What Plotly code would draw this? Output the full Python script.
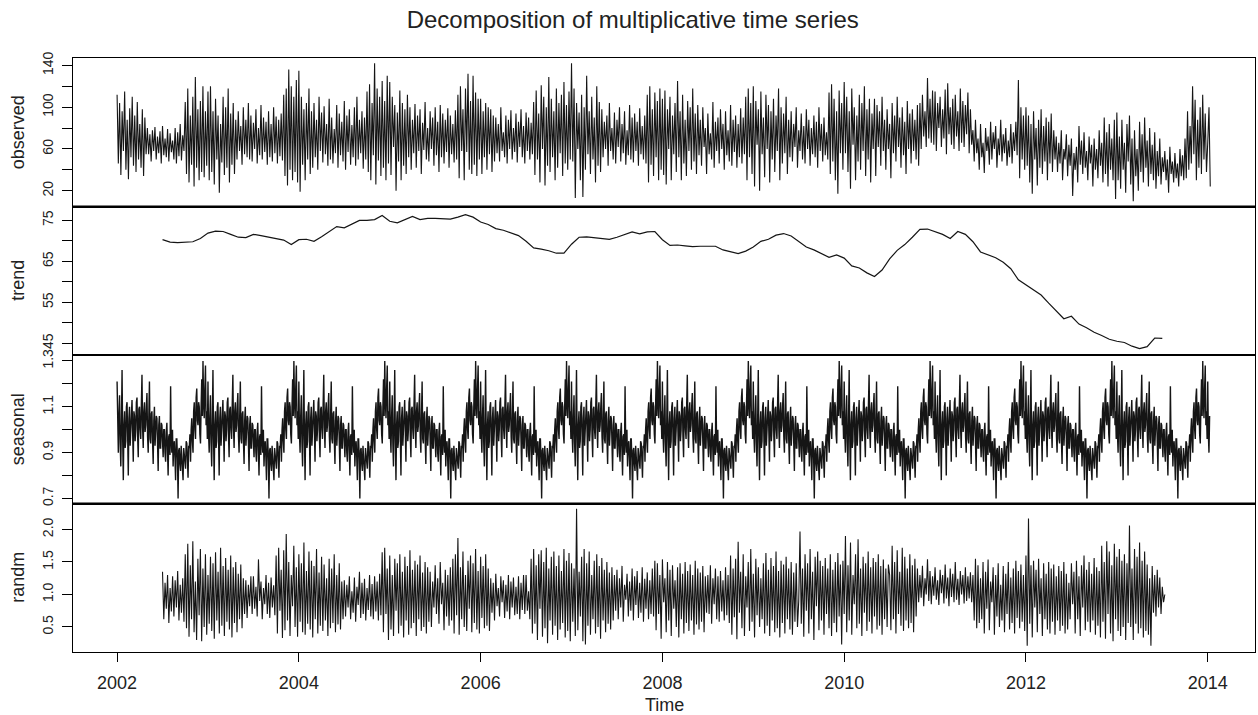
import numpy as np
import plotly.graph_objects as go
from plotly.subplots import make_subplots

# ---------------- data ----------------
obs_start = 2002.0
obs_per_year = 72
observed = [
    # 2002
    112, 46, 104, 35, 96, 58, 115, 40, 88, 31, 99, 52, 110, 44, 92, 38, 105, 50, 84, 42, 98, 34, 90, 55,
    80, 55, 74, 48, 78, 58, 81, 50, 72, 56, 77, 46, 82, 54, 70, 52, 79, 48, 75, 57, 68, 50, 80, 46, 76, 53,
    84, 49, 73, 58,
    105, 36, 118, 28, 92, 45, 110, 24, 129, 42, 98, 30, 106, 38, 120, 33, 96, 44,
    # 2003
    115, 30, 120, 38, 96, 26, 108, 50, 92, 18, 84, 47, 110, 35, 100, 42, 118, 28, 94, 45, 104, 36, 88, 50,
    96, 58, 82, 45, 100, 55, 88, 52, 104, 50, 92, 48, 85, 60, 98, 46, 80, 54, 102, 50, 90, 57, 86, 45,
    96, 52, 84, 48, 100, 56, 91, 46, 88, 53, 94, 49,
    112, 34, 118, 25, 136, 40, 120, 30, 110, 38, 126, 28,
    # 2004
    135, 19, 110, 45, 98, 30, 104, 50, 118, 36, 96, 42,
    104, 52, 88, 40, 110, 58, 95, 47, 101, 55, 84, 44, 108, 50, 90, 46, 79, 56, 102, 42, 94, 54, 86, 48,
    106, 40, 92, 57, 98, 45, 83, 52, 100, 44, 110, 50, 88, 56, 96, 41, 90, 50,
    115, 38, 122, 30, 104, 54, 142, 26, 118, 49, 110, 34, 125, 42, 106, 30, 130, 46,
    # 2005
    124, 35, 110, 62, 102, 20, 95, 48, 116, 30, 104, 44, 98, 36, 112, 52, 100, 40,
    88, 56, 103, 42, 92, 58, 98, 36, 85, 59, 105, 50, 80, 48, 96, 60, 90, 44, 100, 54, 86, 38,
    102, 52, 94, 46, 88, 57, 99, 42, 92, 55, 84, 47, 97, 50,
    112, 32, 120, 58, 98, 30, 118, 57, 132, 40, 106, 36, 130, 45, 114, 34, 108, 50,
    # 2006
    108, 36, 96, 52, 104, 40, 100, 55, 98, 38, 92, 48,
    90, 56, 84, 48, 100, 58, 76, 52, 92, 46, 88, 60, 97, 50, 80, 57, 94, 47, 86, 62, 98, 52, 82, 46,
    95, 58, 90, 50, 85, 55,
    105, 35, 116, 50, 94, 28, 121, 60, 110, 25, 100, 44, 129, 38, 108, 52, 96, 30, 118, 42, 104, 56,
    112, 34, 124, 46, 102, 40, 115, 50,
    # 2007
    142, 48, 118, 13, 104, 60, 95, 30, 112, 14, 100, 40, 130, 55, 96, 36, 110, 50, 90, 28, 120, 44, 105, 38,
    98, 52, 86, 60, 92, 44, 104, 58, 80, 50, 95, 46, 88, 62, 100, 48, 84, 56, 96, 45, 78, 54, 102, 50,
    90, 47, 94, 58, 86, 44, 99, 55, 82, 50, 92, 46,
    112, 28, 120, 45, 98, 34, 114, 52, 106, 30, 118, 40,
    # 2008
    108, 35, 116, 26, 98, 60, 110, 30, 92, 55, 104, 38, 125, 52, 96, 30, 112, 46, 88, 34, 106, 58, 100, 40,
    118, 48, 94, 36, 102, 54,
    88, 44, 100, 62, 80, 36, 94, 55, 75, 50, 105, 42, 86, 58, 90, 46, 98, 60, 84, 40, 96, 54, 78, 48,
    102, 44, 88, 57, 92, 42, 84, 52, 99, 46, 90, 55,
    110, 30, 118, 52, 104, 36,
    # 2009
    120, 24, 106, 64, 98, 20, 115, 55, 90, 33, 112, 60, 102, 28, 96, 50, 108, 38, 92, 58, 118, 30, 100, 46,
    94, 56, 110, 36, 88, 52,
    96, 48, 84, 62, 100, 42, 78, 58, 94, 50, 82, 46, 98, 60, 88, 44, 80, 55, 92, 52, 86, 42, 100, 58,
    84, 48, 90, 54, 76, 50,
    114, 36, 122, 48, 108, 30, 96, 17, 116, 56, 104, 40,
    # 2010
    124, 56, 110, 38, 96, 22, 118, 64, 100, 30, 92, 48, 112, 40, 104, 58, 120, 34, 98, 50, 108, 28, 94, 60,
    108, 34, 102, 62, 96, 44, 110, 58, 88, 40, 98, 60, 84, 32, 104, 56, 92, 48, 110, 62, 90, 42, 100, 54,
    86, 36, 106, 60, 94, 46, 98, 58, 88, 50, 102, 44,
    104, 60, 112, 72, 96, 62, 128, 70, 108, 66, 116, 64,
    # 2011
    115, 58, 104, 80, 110, 62, 98, 70, 117, 55, 123, 74, 100, 64, 108, 60, 112, 72, 96, 58, 118, 66, 106, 62,
    102, 74, 114, 56, 98, 64,
    78, 48, 88, 56, 70, 40, 84, 52, 66, 37, 80, 58, 72, 45, 86, 50, 76, 60, 82, 42, 70, 54, 88, 48,
    74, 56, 80, 44, 68, 52, 84, 46, 76, 58, 86, 54,
    126, 32, 100, 50, 92, 40,
    # 2012
    100, 44, 92, 28, 84, 17, 96, 50, 80, 25, 88, 42, 98, 36, 82, 48, 90, 30, 86, 46, 94, 38, 78, 50,
    72, 38, 66, 46, 78, 30, 60, 50, 74, 34, 64, 44, 70, 15, 56, 40, 62, 28, 82, 45, 68, 36, 76, 42,
    58, 30, 72, 46, 64, 24, 70, 40, 60, 32, 78, 44, 66, 28, 90, 36, 76, 24, 84, 40, 70, 30, 88, 12,
    # 2013
    95, 30, 72, 22, 88, 40, 66, 18, 84, 48, 92, 26, 70, 10, 78, 34, 60, 20, 86, 38, 74, 28, 90, 42,
    68, 24, 80, 36, 64, 30, 76, 22, 58, 34, 70, 26,
    52, 38, 58, 30, 50, 18, 62, 36, 48, 28, 56, 32, 46, 24, 60, 34, 54, 30,
    70, 32, 96, 40, 82, 46, 120, 55, 107, 30, 88, 42, 100, 36, 112, 50, 94, 38,
    # 2014
    66, 100, 24,
]

trend_start = 2002.5
trend_per_year = 12
trend = [
    70.3, 69.7, 69.6, 69.7, 69.8, 70.6, 71.9, 72.4, 72.3, 71.6, 70.9, 70.8,
    71.6, 71.3, 70.9, 70.6, 70.2, 69.1, 70.3, 70.4, 69.9, 71.0, 72.2, 73.5,
    73.2, 74.2, 75.0, 75.0, 75.2, 76.2, 74.8, 74.4, 75.3, 76.0, 75.2, 75.5,
    75.5, 75.4, 75.3, 75.8, 76.4, 75.8, 74.6, 74.0, 73.0, 72.6, 72.0, 71.3,
    69.9, 68.3, 68.0, 67.6, 67.0, 67.0, 69.2, 70.9, 71.0, 70.8, 70.7, 70.4,
    70.9, 71.6, 72.2, 71.7, 72.2, 72.3, 70.3, 68.9, 69.0, 68.8, 68.6, 68.7,
    68.7, 68.7, 67.8, 67.4, 66.9, 67.5, 68.5, 69.9, 70.4, 71.4, 71.8, 71.2,
    69.8, 68.5, 67.8, 67.0, 66.0, 66.6, 65.8, 63.9, 63.4, 62.2, 61.3, 62.9,
    65.6, 67.7, 69.1, 70.9, 72.8, 72.9, 72.3, 71.6, 70.6, 72.3, 71.6, 69.8,
    67.3, 66.6, 65.9, 64.8, 63.2, 60.5, 59.2, 57.9, 56.8, 54.8, 52.9, 51.0,
    51.6, 49.7, 48.8, 47.7, 46.9, 46.0, 45.5, 45.2, 44.3, 43.7, 44.2, 46.3,
    46.2,
]

# seasonal factor over one year (the component repeats every year), 146 values per year
seasonal_start = 2002.0
seasonal_per_year = 146
seasonal_years = 12
seasonal_extra = 4
seasonal_year = [
    1.21, 0.98, 0.90, 1.06, 1.15, 0.94, 0.84, 1.04, 1.26, 0.96, 0.78, 1.02, 1.08, 0.92, 0.95, 1.10,
    1.12, 0.97, 0.80, 1.05, 1.10, 0.93, 0.98, 1.07,
    1.13, 0.99, 0.86, 1.08, 1.06, 0.95, 1.00, 1.12, 1.14, 0.97, 0.88, 1.09, 1.10, 1.00, 0.96, 1.11,
    1.24, 1.01, 0.92, 1.08, 1.12, 0.99, 1.02, 1.10, 1.16, 0.97,
    0.90, 1.06, 1.21, 0.96, 0.94, 1.07, 1.08, 0.95, 0.85, 1.04, 1.10, 0.93, 0.98, 1.06, 1.05, 0.94,
    0.82, 1.02, 1.06, 0.92, 0.92, 1.03, 1.02, 0.95,
    0.88, 1.00, 1.00, 0.90, 0.86, 0.99, 1.03, 0.91, 0.80, 0.97, 0.98, 0.89, 1.19, 0.95, 0.90, 1.00,
    0.84, 0.93, 0.95, 0.88, 0.78, 0.96, 0.96, 0.87,
    0.70, 0.91, 0.92, 0.85, 0.82, 0.93, 0.88, 0.84, 0.78, 0.92, 0.90, 0.86, 0.83, 0.95, 0.94, 0.87,
    0.79, 0.93, 0.92, 0.98,
    0.86, 1.00, 1.05, 0.95, 0.90, 1.08, 1.12, 1.00, 0.96, 1.14, 1.18, 1.04, 1.02, 1.12, 1.10, 0.98,
    0.94, 1.10, 1.22, 1.06, 1.30, 1.12, 1.05, 1.18, 1.28, 1.02, 1.08, 0.96,
]

randm_start = 2002.5
randm_per_year = 72
randm = [
    # 2002.5 - 2003.5
    1.35, 0.62, 1.18, 0.78, 1.30, 0.56, 1.10, 0.74, 1.28, 0.66, 1.22, 0.80, 1.36, 0.60, 1.15, 0.72, 1.25, 0.58,
    1.62, 0.48, 1.78, 0.35, 1.45, 0.62, 1.82, 0.42, 1.20, 0.30, 1.55, 0.68, 1.70, 0.28, 1.40, 0.50, 1.62, 0.38,
    1.30, 0.55, 1.58, 0.44, 1.48, 0.32, 1.65, 0.60, 1.35, 0.40, 1.72, 0.52, 1.44, 0.36, 1.56, 0.58, 1.38, 0.46,
    1.60, 0.34, 1.42, 0.56, 1.50, 0.42, 1.32, 0.62, 1.46, 0.48, 1.25, 0.70,
    1.22, 0.64, 1.15, 0.82, 1.28, 0.70,
    # 2003.5 - 2004.5
    1.28, 0.78, 1.12, 0.66, 1.54, 0.90, 1.20, 0.62, 1.10, 0.85, 1.30, 0.70, 1.18, 0.64, 1.26, 0.80, 1.14, 0.68,
    1.60, 0.40, 1.72, 0.75, 1.38, 0.33, 1.68, 0.45, 1.93, 0.60, 1.50, 0.36, 1.30, 0.82, 1.75, 0.50, 1.42, 0.35,
    1.62, 0.58, 1.48, 0.42, 1.80, 0.38, 1.36, 0.55, 1.66, 0.46, 1.52, 0.34, 1.44, 0.62, 1.70, 0.40, 1.34, 0.52,
    1.58, 0.44, 1.46, 0.60, 1.25, 0.36, 1.55, 0.48, 1.40, 0.56, 1.62, 0.42, 1.30, 0.54, 1.48, 0.46, 1.20, 0.62,
    # 2004.5 - 2005.5
    1.22, 0.66, 1.15, 0.80, 1.28, 0.62, 1.05, 0.72, 1.26, 0.58, 1.12, 0.84, 1.35, 0.64, 1.18, 0.70, 1.24, 0.60,
    1.10, 0.76, 1.30, 0.66, 1.16, 0.62, 1.28, 0.74, 1.20, 0.60, 1.32, 0.68,
    1.65, 0.42, 1.72, 0.70, 1.40, 0.30, 1.60, 0.46, 1.30, 0.36, 1.55, 0.75, 1.48, 0.40, 1.62, 0.52, 1.35, 0.34,
    1.58, 0.60, 1.44, 0.38, 1.68, 0.48, 1.38, 0.56, 1.52, 0.36, 1.46, 0.62, 1.60, 0.44, 1.34, 0.50, 1.50, 0.40,
    1.42, 0.58, 1.35, 0.50, 1.20, 0.80,
    # 2005.5 - 2006.5
    1.45, 0.70, 1.25, 0.55, 1.50, 0.85, 1.18, 0.45, 1.38, 0.66, 1.30, 0.52, 1.42, 0.60,
    1.55, 0.40, 1.62, 0.68, 1.87, 0.38, 1.42, 0.62, 1.66, 0.50, 1.30, 0.44, 1.52, 0.78, 1.60, 0.42, 1.48, 0.56,
    1.70, 0.46, 1.36, 0.40, 1.58, 0.64, 1.44, 0.48, 1.62, 0.52, 1.40, 0.44,
    1.25, 0.72, 1.18, 0.60, 1.32, 0.82, 1.10, 0.66, 1.28, 0.88, 1.22, 0.64, 1.15, 0.74, 1.30, 0.62, 1.20, 0.80,
    1.26, 0.68, 1.12, 0.70, 1.28, 0.62, 1.18, 0.76, 1.30, 0.70,
    # 2006.5 - 2007.5
    1.30, 0.75, 1.05, 0.62, 1.55, 0.40, 1.70, 0.55, 1.45, 0.30, 1.62, 0.78, 1.68, 0.35, 1.50, 0.48, 1.72, 0.25,
    1.40, 0.60, 1.58, 0.38, 1.66, 0.52, 1.44, 0.30, 1.60, 0.46, 1.36, 0.56, 1.70, 0.34, 1.52, 0.44, 1.64, 0.28,
    1.48, 0.58, 1.40, 0.36,
    2.32, 0.45, 1.35, 0.66, 1.58, 0.28, 1.70, 0.23, 1.48, 0.52, 1.66, 0.38, 1.30, 0.62, 1.52, 0.40, 1.62, 0.50,
    1.44, 0.32, 1.56, 0.60, 1.38, 0.42, 1.50, 0.55, 1.34, 0.46, 1.42, 0.60, 1.30, 0.75,
    # 2007.5 - 2008.5
    1.38, 0.62, 1.25, 0.80, 1.44, 0.58, 1.15, 0.92, 1.32, 0.66, 1.20, 0.75, 1.40, 0.60, 1.28, 0.84, 1.36, 0.64,
    1.18, 0.72, 1.42, 0.58, 1.24, 0.78, 1.34, 0.62, 1.22, 0.70, 1.40, 0.66,
    1.52, 0.45, 1.48, 0.70, 1.30, 0.32, 1.54, 0.88, 1.25, 0.42, 1.50, 0.60, 1.38, 0.36, 1.45, 0.78, 1.22, 0.50,
    1.42, 0.34, 1.48, 0.62, 1.32, 0.40, 1.50, 0.56, 1.36, 0.44, 1.46, 0.60, 1.30, 0.38, 1.52, 0.54, 1.40, 0.46,
    1.34, 0.58, 1.44, 0.42, 1.28, 0.72,
    # 2008.5 - 2009.5
    1.30, 0.70, 1.45, 0.55, 1.25, 0.85, 1.40, 0.62, 1.28, 0.58, 1.36, 0.74, 1.22, 0.60, 1.42, 0.68, 1.30, 0.56,
    1.60, 0.38, 1.40, 0.65, 1.55, 0.31, 1.81, 0.72, 1.35, 0.48, 1.62, 0.36, 1.28, 0.80, 1.50, 0.44, 1.70, 0.58,
    1.32, 0.34, 1.55, 0.68, 1.42, 0.50, 1.25, 0.62, 1.48, 0.40, 1.64, 0.52, 1.38, 0.36, 1.56, 0.60, 1.44, 0.42,
    1.66, 0.48, 1.36, 0.34, 1.52, 0.56, 1.46, 0.40, 1.58, 0.62, 1.40, 0.46, 1.50, 0.38, 1.34, 0.58, 1.48, 0.50,
    # 2009.5 - 2010.5
    0.90, 1.97, 0.55, 1.40, 0.35, 1.62, 0.75, 1.48, 0.40, 1.70, 0.62, 1.35, 0.30, 1.58, 0.82, 1.66, 0.45, 1.52,
    0.60, 1.44, 0.38, 1.56, 0.70, 1.40, 0.48, 1.62, 0.36, 1.38, 0.56, 1.50, 0.42, 1.64, 0.66, 1.46, 0.23, 1.52,
    0.70, 1.90, 0.42, 1.45, 0.60, 1.80, 0.38, 1.30, 0.85, 1.62, 0.48, 1.85, 0.55, 1.40, 0.36, 1.58, 0.72, 1.48,
    0.44, 1.66, 0.58, 1.42, 0.40, 1.56, 0.66, 1.50, 0.46, 1.62, 0.52, 1.44, 0.38, 1.54, 0.62, 1.40, 0.50, 1.46,
    # 2010.5 - 2011.5
    1.30, 0.45, 1.75, 0.62, 1.50, 0.40, 1.68, 0.70, 1.35, 0.52, 1.72, 0.44, 1.58, 0.60, 1.40, 0.48, 1.62, 0.56,
    1.45, 0.42, 1.55, 0.66,
    1.40, 0.88, 1.30, 0.95, 1.44, 0.82, 1.25, 1.00, 1.54, 0.90, 1.36, 0.85, 1.28, 0.98, 1.42, 0.92, 1.22, 0.84,
    1.38, 1.02, 1.30, 0.86, 1.46, 0.94, 1.26, 0.82, 1.40, 0.96, 1.32, 0.88, 1.50, 0.92, 1.24, 0.84, 1.36, 1.00,
    1.30, 0.86, 1.42, 0.90, 1.28, 0.94, 1.34, 0.88,
    1.30, 0.60, 1.55, 0.48, 1.45, 0.56,
    # 2011.5 - 2012.5
    1.25, 0.62, 1.50, 0.40, 1.35, 0.78, 1.54, 0.45, 1.20, 0.88, 1.42, 0.38, 1.30, 0.66, 1.48, 0.50, 1.15, 0.60,
    1.44, 0.42, 1.32, 0.70, 1.50, 0.46, 1.26, 0.56, 1.40, 0.40, 1.52, 0.64, 1.36, 0.48, 1.46, 0.58, 1.30, 0.44,
    1.60, 0.21, 2.17, 0.55,
    1.45, 0.34, 1.52, 0.80, 1.38, 0.42, 1.55, 0.70, 1.25, 0.36, 1.48, 0.62, 1.32, 0.46, 1.50, 0.40, 1.40, 0.58,
    1.46, 0.38, 1.28, 0.60, 1.44, 0.44, 1.36, 0.52, 1.50, 0.40, 1.32, 0.46, 1.18, 0.62,
    # 2012.5 - 2013.5
    1.48, 0.85, 1.35, 0.40, 1.52, 0.62, 1.28, 0.36, 1.45, 0.80, 1.60, 0.45, 1.38, 0.58, 1.50, 0.42, 1.32, 0.60,
    1.56, 0.38, 1.42, 0.52, 1.36, 0.34, 1.75, 0.58, 1.50, 0.32, 1.82, 0.70, 1.66, 0.40, 1.45, 0.28, 1.78, 0.62,
    1.58, 0.44, 1.70, 0.36, 1.52, 0.50, 1.62, 0.30, 1.48, 0.56, 2.06, 0.50, 1.40, 0.30, 1.70, 0.55, 1.58, 0.40,
    1.80, 0.48, 1.52, 0.34, 1.66, 0.44, 1.46, 0.38, 1.25, 0.21, 1.44, 0.72, 1.30, 0.66, 1.38, 0.80, 1.26, 0.70,
    # end
    1.12, 0.88, 1.00,
]

x_tick_vals = [2002, 2004, 2006, 2008, 2010, 2012, 2014]
x_tick_text = ["2002", "2004", "2006", "2008", "2010", "2012", "2014"]

obs_tick_vals = [20, 40, 60, 80, 100, 120, 140]
obs_tick_text = ["20", "", "60", "", "100", "", "140"]
trend_tick_vals = [45, 50, 55, 60, 65, 70, 75]
trend_tick_text = ["45", "", "55", "", "65", "", "75"]
seas_tick_vals = [0.7, 0.8, 0.9, 1.0, 1.1, 1.2, 1.3]
seas_tick_text = ["0.7", "", "0.9", "", "1.1", "", "1.3"]
rand_tick_vals = [0.5, 1.0, 1.5, 2.0]
rand_tick_text = ["0.5", "1.0", "1.5", "2.0"]

panel_names = ["observed", "trend", "seasonal", "randm"]
title_text = "Decomposition of multiplicative time series"
x_title = "Time"

# ---------------- build series ----------------
obs_x = obs_start + np.arange(len(observed)) / obs_per_year
trend_x = trend_start + np.arange(len(trend)) / trend_per_year
n_seas = seasonal_per_year * seasonal_years + seasonal_extra
seasonal = np.tile(seasonal_year, seasonal_years + 1)[:n_seas]
seas_x = seasonal_start + np.arange(n_seas) / seasonal_per_year
randm_x = randm_start + np.arange(len(randm)) / randm_per_year

FONT = "Liberation Sans, Arial, Helvetica, sans-serif"
TXT = "#222222"
NOISY = dict(color="#151515", width=1.1)
SEAS = dict(color="#151515", width=1.4)
SMOOTH = dict(color="#151515", width=1.2)

fig = make_subplots(rows=4, cols=1, shared_xaxes=True, vertical_spacing=0)
fig.add_trace(go.Scatter(x=obs_x, y=observed, mode="lines", line=NOISY), row=1, col=1)
fig.add_trace(go.Scatter(x=trend_x, y=trend, mode="lines", line=SMOOTH), row=2, col=1)
fig.add_trace(go.Scatter(x=seas_x, y=seasonal, mode="lines", line=SEAS), row=3, col=1)
fig.add_trace(go.Scatter(x=randm_x, y=randm, mode="lines", line=NOISY), row=4, col=1)

y_specs = [
    ([4.9, 147.1], obs_tick_vals, obs_tick_text),
    ([42.15, 78.4], trend_tick_vals, trend_tick_text),
    ([0.678, 1.326], seas_tick_vals, seas_tick_text),
    ([0.115, 2.40], rand_tick_vals, rand_tick_text),
]
for i, (rng, tv, tt) in enumerate(y_specs, start=1):
    fig.update_yaxes(
        row=i, col=1, range=rng, tickmode="array", tickvals=tv, ticktext=tt,
        tickangle=-90, ticks="outside", ticklen=10, tickwidth=1, tickcolor="black",
        showline=True, linecolor="black", linewidth=1, mirror=True,
        showgrid=False, zeroline=False,
        tickfont=dict(family=FONT, size=14, color=TXT),
        ticklabelstandoff=3,
    )
    fig.update_xaxes(
        row=i, col=1, range=[2001.515, 2014.52],
        showline=True, linecolor="black", linewidth=1, mirror=True,
        showgrid=False, zeroline=False,
        ticks="outside" if i == 4 else "",
        tickmode="array", tickvals=x_tick_vals, ticktext=x_tick_text,
        ticklen=9, tickwidth=1, tickcolor="black",
        tickfont=dict(family=FONT, size=18, color=TXT),
        showticklabels=(i == 4),
        ticklabelstandoff=5,
    )

annotations = []
for i, name in enumerate(panel_names):
    yc = 1 - (i + 0.5) * 0.25
    annotations.append(dict(
        text=name, xref="paper", yref="paper", x=-0.0465, y=yc,
        xanchor="center", yanchor="middle", textangle=-90, showarrow=False,
        font=dict(family=FONT, size=18, color=TXT),
    ))
annotations.append(dict(
    text=x_title, xref="paper", yref="paper", x=0.5, y=-0.089,
    xanchor="center", yanchor="middle", showarrow=False,
    font=dict(family=FONT, size=18, color=TXT),
))

shapes = []
for b in [0.25, 0.5, 0.75]:
    shapes.append(dict(type="line", xref="paper", yref="paper", x0=0, x1=1, y0=b, y1=b,
                       line=dict(color="black", width=2)))

fig.update_layout(
    width=1258, height=715,
    margin=dict(l=73, r=3, t=58, b=63),
    paper_bgcolor="white", plot_bgcolor="white",
    showlegend=False, hovermode=False,
    title=dict(text=title_text, xref="container", yref="container", x=0.503, y=1 - 20 / 715,
               xanchor="center", yanchor="middle",
               font=dict(family=FONT, size=24, color=TXT)),
    annotations=annotations,
    shapes=shapes,
)

fig.write_html("out.html")
